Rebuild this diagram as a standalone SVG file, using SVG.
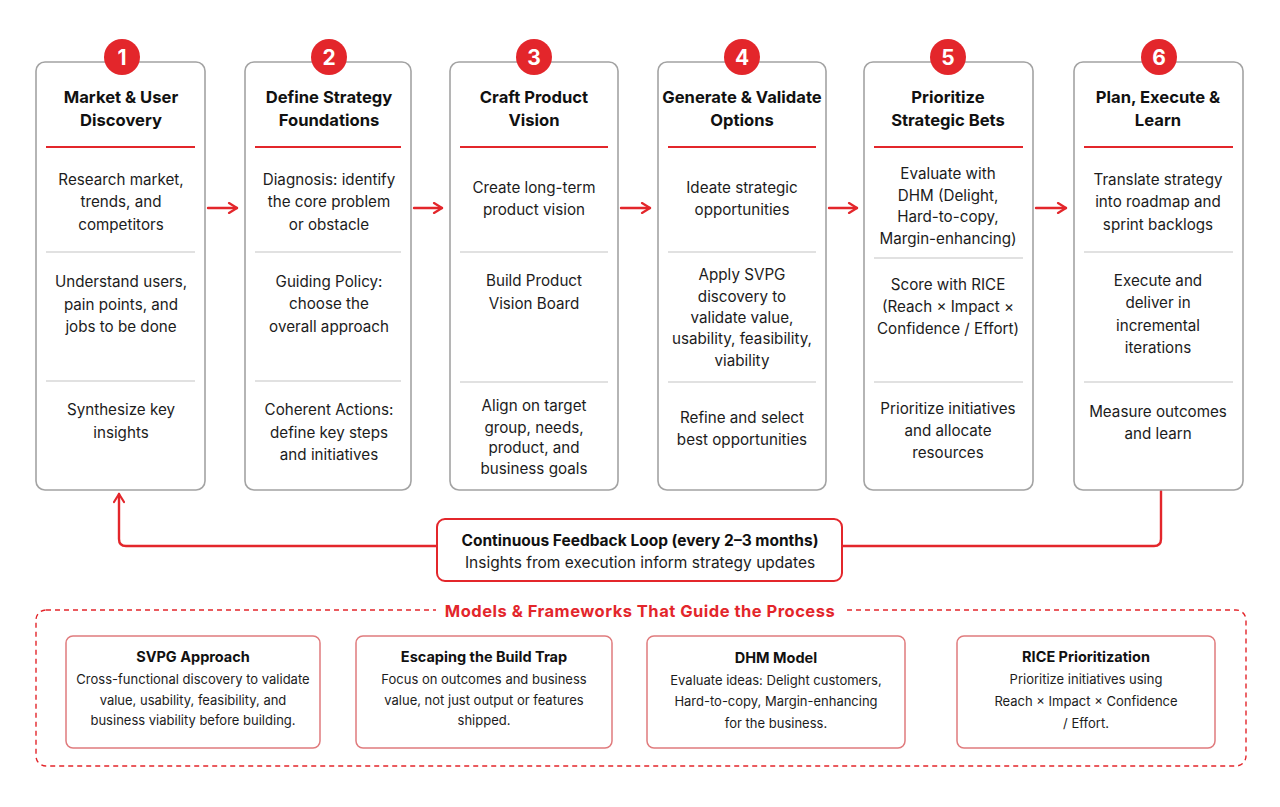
<svg xmlns="http://www.w3.org/2000/svg" width="1280" height="807" viewBox="0 0 1280 807">
<style>
.card{fill:#fff;stroke:#a3a3a3;stroke-width:1.6}
.num{fill:#e3262b}
.numt{font-family:Inter,"Liberation Sans",sans-serif;font-size:21px;font-weight:700;fill:#fff;text-anchor:middle}
.title{font-family:Inter,"Liberation Sans",sans-serif;font-size:16.6px;font-weight:700;fill:#111;text-anchor:middle}
.body{font-family:Inter,"Liberation Sans",sans-serif;font-size:15.2px;fill:#1c1c1c;text-anchor:middle}
.rl{stroke:#e3262b;stroke-width:2}
.gl{stroke:#c4c4c4;stroke-width:1.2}
.conn{fill:none;stroke:#e3262b;stroke-width:2.4;stroke-linecap:round;stroke-linejoin:round}
.fb{fill:#fff;stroke:#e3262b;stroke-width:2}
.fbt{font-family:Inter,"Liberation Sans",sans-serif;font-size:15.5px;font-weight:700;fill:#111;text-anchor:middle}
.fbb{font-family:Inter,"Liberation Sans",sans-serif;font-size:15.5px;fill:#1c1c1c;text-anchor:middle}
.dash{fill:none;stroke:#e3262b;stroke-width:1.4;stroke-dasharray:5 4}
.mt{font-family:Inter,"Liberation Sans",sans-serif;font-size:16.5px;font-weight:700;fill:#e3262b;text-anchor:middle;letter-spacing:0.5px}
.mc{fill:#fff;stroke:#e07b7d;stroke-width:1.5}
.mct{font-family:Inter,"Liberation Sans",sans-serif;font-size:14.5px;font-weight:700;fill:#111;text-anchor:middle}
.mcb{font-family:Inter,"Liberation Sans",sans-serif;font-size:13px;fill:#1c1c1c;text-anchor:middle}
</style>
<defs>
<marker id="ah" viewBox="0 0 12 12" refX="10" refY="6" markerWidth="12" markerHeight="12" markerUnits="userSpaceOnUse" orient="auto">
<path d="M2,1 L10,6 L2,11" fill="none" stroke="#e3262b" stroke-width="2.2" stroke-linecap="round" stroke-linejoin="round"/>
</marker>
</defs>
<rect width="1280" height="807" fill="#fff"/>

<g id="connectors">
<line class="conn" x1="208" y1="208" x2="237" y2="208" marker-end="url(#ah)"/>
<line class="conn" x1="414" y1="208" x2="442" y2="208" marker-end="url(#ah)"/>
<line class="conn" x1="621" y1="208" x2="650" y2="208" marker-end="url(#ah)"/>
<line class="conn" x1="829" y1="208" x2="857" y2="208" marker-end="url(#ah)"/>
<line class="conn" x1="1036" y1="208" x2="1066" y2="208" marker-end="url(#ah)"/>
<path class="conn" d="M437,546 L126,546 Q119,546 119,539 L119,494" marker-end="url(#ah)"/>
<path class="conn" d="M842,546 L1154,546 Q1161,546 1161,539 L1161,491"/>
</g>

<g id="node1">
<rect class="card" x="36" y="62" width="169" height="428" rx="9"/>
<circle class="num" cx="122" cy="57" r="18"/><text class="numt" x="122" y="64.5">1</text>
<text class="title" x="121" y="103">Market &amp; User</text><text class="title" x="121" y="126">Discovery</text>
<line class="rl" x1="46" y1="147" x2="195" y2="147"/>
<text class="body" x="121" y="185">Research market,</text><text class="body" x="121" y="207">trends, and</text><text class="body" x="121" y="230">competitors</text>
<line class="gl" x1="46" y1="252" x2="195" y2="252"/>
<text class="body" x="121" y="287">Understand users,</text><text class="body" x="121" y="310">pain points, and</text><text class="body" x="121" y="332">jobs to be done</text>
<line class="gl" x1="46" y1="381" x2="195" y2="381"/>
<text class="body" x="121" y="415">Synthesize key</text><text class="body" x="121" y="438">insights</text>
</g>

<g id="node2">
<rect class="card" x="245" y="62" width="166" height="428" rx="9"/>
<circle class="num" cx="329" cy="57" r="18"/><text class="numt" x="329" y="64.5">2</text>
<text class="title" x="329" y="103">Define Strategy</text><text class="title" x="329" y="126">Foundations</text>
<line class="rl" x1="255" y1="147" x2="401" y2="147"/>
<text class="body" x="329" y="185">Diagnosis: identify</text><text class="body" x="329" y="207">the core problem</text><text class="body" x="329" y="230">or obstacle</text>
<line class="gl" x1="255" y1="252" x2="401" y2="252"/>
<text class="body" x="329" y="287">Guiding Policy:</text><text class="body" x="329" y="309">choose the</text><text class="body" x="329" y="332">overall approach</text>
<line class="gl" x1="255" y1="381" x2="401" y2="381"/>
<text class="body" x="329" y="415">Coherent Actions:</text><text class="body" x="329" y="438">define key steps</text><text class="body" x="329" y="460">and initiatives</text>
</g>

<g id="node3">
<rect class="card" x="450" y="62" width="168" height="428" rx="9"/>
<circle class="num" cx="534" cy="57" r="18"/><text class="numt" x="534" y="64.5">3</text>
<text class="title" x="534" y="103">Craft Product</text><text class="title" x="534" y="126">Vision</text>
<line class="rl" x1="460" y1="147" x2="608" y2="147"/>
<text class="body" x="534" y="193">Create long-term</text><text class="body" x="534" y="215">product vision</text>
<line class="gl" x1="460" y1="252" x2="608" y2="252"/>
<text class="body" x="534" y="286">Build Product</text><text class="body" x="534" y="309">Vision Board</text>
<line class="gl" x1="460" y1="382" x2="608" y2="382"/>
<text class="body" x="534" y="411">Align on target</text><text class="body" x="534" y="433">group, needs,</text><text class="body" x="534" y="453">product, and</text><text class="body" x="534" y="474">business goals</text>
</g>

<g id="node4">
<rect class="card" x="658" y="62" width="168" height="428" rx="9"/>
<circle class="num" cx="742" cy="57" r="18"/><text class="numt" x="742" y="64.5">4</text>
<text class="title" x="742" y="103">Generate &amp; Validate</text><text class="title" x="742" y="126">Options</text>
<line class="rl" x1="668" y1="147" x2="816" y2="147"/>
<text class="body" x="742" y="193">Ideate strategic</text><text class="body" x="742" y="215">opportunities</text>
<line class="gl" x1="668" y1="252" x2="816" y2="252"/>
<text class="body" x="742" y="280">Apply SVPG</text><text class="body" x="742" y="302">discovery to</text><text class="body" x="742" y="323">validate value,</text><text class="body" x="742" y="344">usability, feasibility,</text><text class="body" x="742" y="366">viability</text>
<line class="gl" x1="668" y1="382" x2="816" y2="382"/>
<text class="body" x="742" y="423">Refine and select</text><text class="body" x="742" y="445">best opportunities</text>
</g>

<g id="node5">
<rect class="card" x="864" y="62" width="169" height="428" rx="9"/>
<circle class="num" cx="948" cy="57" r="18"/><text class="numt" x="948" y="64.5">5</text>
<text class="title" x="948" y="103">Prioritize</text><text class="title" x="948" y="126">Strategic Bets</text>
<line class="rl" x1="874" y1="147" x2="1023" y2="147"/>
<text class="body" x="948" y="179">Evaluate with</text><text class="body" x="948" y="201">DHM (Delight,</text><text class="body" x="948" y="222">Hard-to-copy,</text><text class="body" x="948" y="244">Margin-enhancing)</text>
<line class="gl" x1="874" y1="258" x2="1023" y2="258"/>
<text class="body" x="948" y="290">Score with RICE</text><text class="body" x="948" y="312">(Reach × Impact ×</text><text class="body" x="948" y="334">Confidence / Effort)</text>
<line class="gl" x1="874" y1="382" x2="1023" y2="382"/>
<text class="body" x="948" y="414">Prioritize initiatives</text><text class="body" x="948" y="436">and allocate</text><text class="body" x="948" y="458">resources</text>
</g>

<g id="node6">
<rect class="card" x="1074" y="62" width="169" height="428" rx="9"/>
<circle class="num" cx="1159" cy="57" r="18"/><text class="numt" x="1159" y="64.5">6</text>
<text class="title" x="1158" y="103">Plan, Execute &amp;</text><text class="title" x="1158" y="126">Learn</text>
<line class="rl" x1="1084" y1="147" x2="1233" y2="147"/>
<text class="body" x="1158" y="185">Translate strategy</text><text class="body" x="1158" y="207">into roadmap and</text><text class="body" x="1158" y="230">sprint backlogs</text>
<line class="gl" x1="1084" y1="252" x2="1233" y2="252"/>
<text class="body" x="1158" y="286">Execute and</text><text class="body" x="1158" y="308">deliver in</text><text class="body" x="1158" y="331">incremental</text><text class="body" x="1158" y="353">iterations</text>
<line class="gl" x1="1084" y1="382" x2="1233" y2="382"/>
<text class="body" x="1158" y="417">Measure outcomes</text><text class="body" x="1158" y="439">and learn</text>
</g>

<g id="feedback">
<rect class="fb" x="437" y="519" width="405" height="62" rx="8"/>
<text class="fbt" x="640" y="546">Continuous Feedback Loop (every 2–3 months)</text>
<text class="fbb" x="640" y="568">Insights from execution inform strategy updates</text>
</g>

<g id="models">
<rect class="dash" x="36" y="610" width="1210" height="156" rx="10"/>
<rect x="436" y="600" width="408" height="20" fill="#fff"/>
<text class="mt" x="640" y="617">Models &amp; Frameworks That Guide the Process</text>
</g>

<g id="m1">
<rect class="mc" x="66" y="636" width="254" height="112" rx="7"/>
<text class="mct" x="193" y="662">SVPG Approach</text>
<text class="mcb" x="193" y="684">Cross-functional discovery to validate</text>
<text class="mcb" x="193" y="705">value, usability, feasibility, and</text>
<text class="mcb" x="193" y="725">business viability before building.</text>
</g>
<g id="m2">
<rect class="mc" x="356" y="636" width="256" height="112" rx="7"/>
<text class="mct" x="484" y="662">Escaping the Build Trap</text>
<text class="mcb" x="484" y="684">Focus on outcomes and business</text>
<text class="mcb" x="484" y="705">value, not just output or features</text>
<text class="mcb" x="484" y="725">shipped.</text>
</g>
<g id="m3">
<rect class="mc" x="647" y="636" width="258" height="112" rx="7"/>
<text class="mct" x="776" y="663">DHM Model</text>
<text class="mcb" x="776" y="685">Evaluate ideas: Delight customers,</text>
<text class="mcb" x="776" y="706">Hard-to-copy, Margin-enhancing</text>
<text class="mcb" x="776" y="728">for the business.</text>
</g>
<g id="m4">
<rect class="mc" x="957" y="636" width="258" height="112" rx="7"/>
<text class="mct" x="1086" y="662">RICE Prioritization</text>
<text class="mcb" x="1086" y="684">Prioritize initiatives using</text>
<text class="mcb" x="1086" y="706">Reach × Impact × Confidence</text>
<text class="mcb" x="1086" y="728">/ Effort.</text>
</g>
</svg>
